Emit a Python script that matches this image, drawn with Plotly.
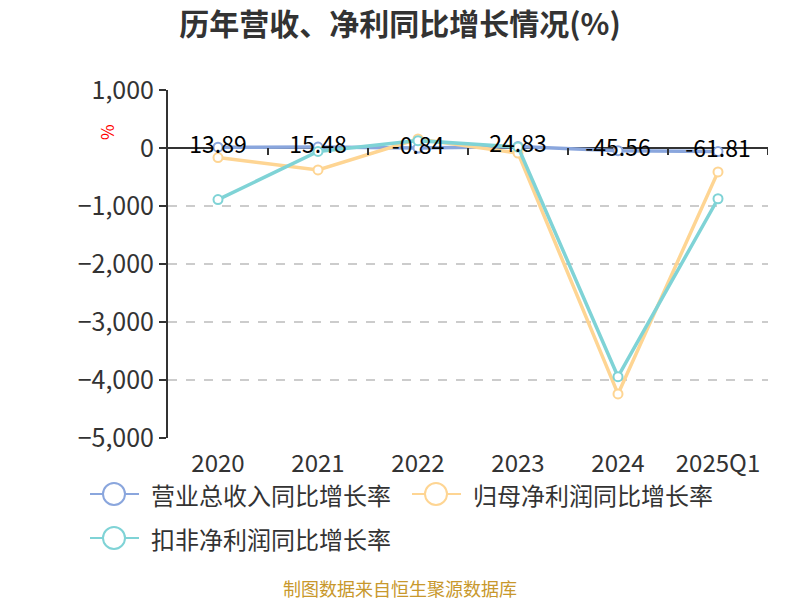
import plotly.graph_objects as go

categories = ["2020", "2021", "2022", "2023", "2024", "2025Q1"]
revenue_growth = [13.89, 15.48, -0.84, 24.83, -45.56, -61.81]
parent_np_growth = [-165, -378, 155, -87, -4240, -412]
deducted_np_growth = [-890, -60, 127, 17, -3943, -875]

series_names = ["营业总收入同比增长率", "归母净利润同比增长率", "扣非净利润同比增长率"]
colors = ["#8aa6dd", "#fed593", "#7fd3d6"]
y_ticks = [1000, 0, -1000, -2000, -3000, -4000, -5000]

FONT = "Noto Sans CJK SC, Noto Sans, sans-serif"

# plot-area geometry (px)
L, R, T, B = 168, 32, 90, 162
PW, PH = 800 - L - R, 600 - T - B


def px_x(px):
    return (px - L) / PW


def px_y(py):
    return (600 - B - py) / PH


fig = go.Figure()
for vals, name, col in zip([revenue_growth, parent_np_growth, deducted_np_growth], series_names, colors):
    fig.add_trace(go.Scatter(
        x=categories, y=vals, mode="lines+markers", name=name,
        line=dict(color=col, width=3.5),
        marker=dict(symbol="circle", size=9, color="white", line=dict(color=col, width=2)),
        showlegend=False, hoverinfo="x+y",
    ))

# data labels for revenue growth on top
fig.add_trace(go.Scatter(
    x=categories, y=revenue_growth, mode="text",
    text=[f"{v:.2f}" for v in revenue_growth], textposition="middle center",
    textfont=dict(size=23, color="#000000", family=FONT),
    showlegend=False, hoverinfo="skip",
))

# tick marks on the zero line at category boundaries
for i in range(len(categories)):
    fig.add_shape(type="line", xref="x", yref="y", x0=i + 0.5, x1=i + 0.5,
                  ysizemode="pixel", yanchor=0, y0=0, y1=-7,
                  line=dict(color="#333333", width=2))

# legend drawn as line + circle + text
legend_pos = [(90, 494), (412, 494), (90, 538)]
for (lx, ly), name, col in zip(legend_pos, series_names, colors):
    fig.add_shape(type="line", xref="paper", yref="paper",
                  x0=px_x(lx), x1=px_x(lx + 49), y0=px_y(ly), y1=px_y(ly),
                  line=dict(color=col, width=2))
    fig.add_shape(type="circle", xref="paper", yref="paper",
                  xsizemode="pixel", ysizemode="pixel",
                  xanchor=px_x(lx + 24), yanchor=px_y(ly),
                  x0=-11, x1=11, y0=-11, y1=11,
                  fillcolor="white", line=dict(color=col, width=2))
    fig.add_annotation(text=name, xref="paper", yref="paper",
                       x=px_x(lx + 59), y=px_y(ly), xanchor="left", yanchor="middle",
                       showarrow=False, font=dict(size=24, color="#333333", family=FONT))

fig.add_annotation(text="%", xref="paper", yref="paper", x=px_x(106), y=px_y(132),
                   xanchor="center", yanchor="middle",
                   showarrow=False, textangle=-90,
                   font=dict(size=17, color="#ff0000", family=FONT))

fig.add_annotation(text="制图数据来自恒生聚源数据库", xref="paper", yref="paper",
                   x=px_x(400), y=px_y(588), xanchor="center", yanchor="middle",
                   showarrow=False,
                   font=dict(size=18, color="#c8982c", family=FONT))

fig.update_layout(
    width=800, height=600,
    margin=dict(l=L, r=R, t=T, b=B),
    paper_bgcolor="white", plot_bgcolor="white",
    font=dict(family=FONT, color="#333333"),
    title=dict(text="<b>历年营收、净利同比增长情况(%)</b>", x=0.5, xanchor="center",
               y=1 - 24 / 600, yanchor="middle",
               font=dict(size=30, color="#333333", family=FONT)),
    xaxis=dict(type="category", range=[-0.5, 5.5], showline=False, showgrid=False,
               zeroline=False, ticks="", tickfont=dict(size=24, color="#333333"),
               ticklabelstandoff=9),
    yaxis=dict(range=[-5000, 1000], tickvals=y_ticks, tickformat=",",
               showgrid=True, gridcolor="#cccccc", griddash="dash", gridwidth=1.5,
               showline=True, linecolor="#333333", linewidth=2,
               ticks="outside", ticklen=7, tickcolor="#333333", tickwidth=2,
               zeroline=True, zerolinecolor="#333333", zerolinewidth=2,
               tickfont=dict(size=25, color="#333333")),
    showlegend=False,
)

fig.write_html("out.html", config={"displayModeBar": False},
               post_script="document.body.style.margin='0';")
